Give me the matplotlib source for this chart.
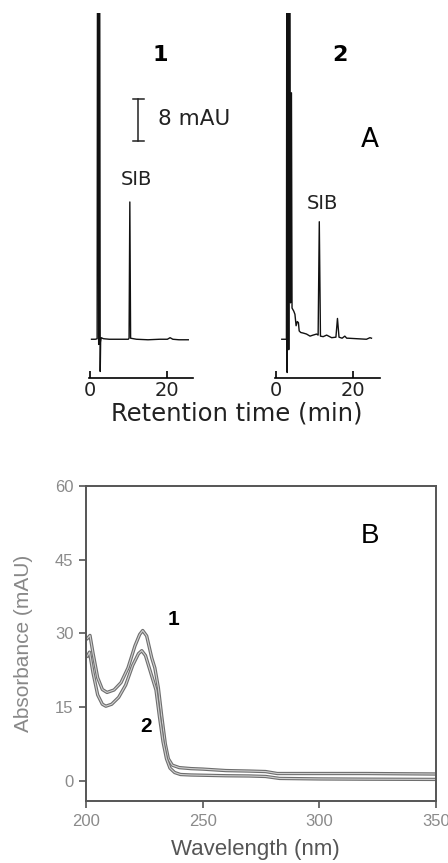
import numpy as np
import matplotlib
matplotlib.use("Agg")
import matplotlib.pyplot as plt

# --- chromatogram 1 (standard) : time (min), signal (mAU)
t_std = [0.4, 1.4, 1.85, 1.95, 2.1, 2.25, 2.35, 2.5, 2.65, 2.75, 2.9, 3.5, 5.0, 8.0, 9.9,
         10.1, 10.3, 10.5, 12.0, 15.0, 18.0, 20.0, 20.7, 21.4, 23.0, 25.4]
y_std = [0.0, 0.0, 0.1, 80, 80, -1.0, 80, 80, -6.2, -0.6, 0.3, 0.1, 0.0, 0.0, 0.0,
         0.2, 26.4, 0.2, 0.0, -0.1, 0.0, 0.0, 0.3, 0.0, -0.1, -0.1]

# --- chromatogram 2 (sample)
t_smp = [1.5, 2.7, 2.8, 2.9, 3.0, 3.15, 3.3, 3.45, 3.6, 3.75, 4.0, 4.15, 4.3, 4.6, 4.9, 5.2,
         5.5, 5.8, 6.0, 6.4, 7.0, 7.9, 8.8, 9.6, 10.5, 10.9, 11.2, 11.5, 12.2, 13.1, 14.4,
         15.5, 15.9, 16.3, 17.1, 17.8, 18.3, 18.7, 21.0, 23.4, 24.3, 24.7]
y_smp = [0.0, 0.0, 80, -6.4, 80, 80, -2.0, 80, 80, 7.0, 47.4, 6.0, 5.8, 5.4, 4.8, 2.6,
         3.4, 3.2, 1.6, 1.3, 1.2, 1.0, 0.6, 0.8, 1.0, 0.8, 22.6, 0.6, 0.5, 0.8, 0.3,
         0.4, 4.0, 0.4, 0.2, 0.6, 0.2, 0.2, 0.1, 0.0, 0.3, 0.2]

scale_bar = 8  # mAU

# --- UV spectra : wavelength (nm), absorbance (mAU)
wl_1 = [200.6, 201.7, 203, 205, 207, 209, 212, 215, 218, 221, 223, 224.3, 226, 228.2,
        229.5, 231, 232.5, 234, 235.3, 237, 240, 245, 250, 260, 270, 277, 282, 300, 320, 350]
ab_1 = [29.0, 29.6, 26.0, 21.0, 18.6, 18.0, 18.5, 20.0, 23.0, 27.5, 29.8, 30.6, 29.5, 25.0,
        23.0, 19.0, 13.0, 7.5, 4.5, 3.2, 2.7, 2.5, 2.4, 2.1, 2.0, 1.9, 1.5, 1.5, 1.5, 1.4]
wl_2 = [200.6, 201.5, 203, 205, 207, 208.5, 211, 214, 217, 220, 222.5, 223.9, 225.5, 228.2,
        230, 231.5, 233, 234.5, 236, 238, 240.5, 245, 250, 260, 270, 277, 283, 300, 320, 350]
ab_2 = [25.4, 26.2, 22.0, 17.5, 15.6, 15.2, 15.6, 17.0, 19.5, 23.5, 25.9, 26.5, 25.5, 21.3,
        18.5, 13.0, 8.0, 4.5, 2.6, 1.7, 1.3, 1.2, 1.15, 1.05, 1.0, 0.9, 0.5, 0.4, 0.35, 0.3]

fig = plt.figure(figsize=(4.48, 8.63), dpi=100)

def chrom_axes(rect, xlim):
    ax = fig.add_axes(rect)
    ax.set_xlim(*xlim)
    ax.set_ylim(-7.5, 62.75)
    for s in ['left', 'top', 'right']:
        ax.spines[s].set_visible(False)
    ax.spines['bottom'].set_linewidth(1.2)
    ax.set_yticks([])
    ax.set_xticks([0, 20])
    ax.tick_params(axis='x', direction='in', length=5, width=1.2, pad=2,
                   labelsize=14, labelcolor='#222')
    for lab in ax.get_xticklabels():
        lab.set_family('DejaVu Sans')
    return ax

ax1 = chrom_axes([0.1991, 0.5617, 0.2324, 0.4233], (-0.2, 26.7))
ax1.plot(t_std, y_std, color='#111', lw=1.0)
# scale bar
ax1.plot([12.5, 12.5], [38.2, 38.2 + scale_bar], color='#222', lw=1.1)
ax1.plot([11.0, 14.0], [38.2, 38.2], color='#222', lw=1.1)
ax1.plot([11.0, 14.0], [38.2 + scale_bar, 38.2 + scale_bar], color='#222', lw=1.1)
ax1.text(17.6, 42.3, '%d mAU' % scale_bar, fontsize=15.5, ha='left', va='center',
         family='DejaVu Sans', color='#222')
ax1.text(11.9, 30.8, 'SIB', fontsize=14, ha='center', va='center',
         family='DejaVu Sans', color='#222')
ax1.text(18.1, 54.6, '1', fontsize=16, fontweight='bold', ha='center', va='center',
         family='DejaVu Sans')

ax2 = chrom_axes([0.6138, 0.5617, 0.2344, 0.4233], (-0.26, 26.9))
ax2.plot(t_smp, y_smp, color='#111', lw=1.0)
ax2.text(12.1, 26.2, 'SIB', fontsize=14, ha='center', va='center',
         family='DejaVu Sans', color='#222')
ax2.text(16.5, 54.6, '2', fontsize=16, fontweight='bold', ha='center', va='center',
         family='DejaVu Sans')
ax2.text(24.3, 38.3, 'A', fontsize=19, ha='center', va='center', family='DejaVu Sans')

fig.text(0.528, 0.521, 'Retention time (min)', fontsize=17.5, ha='center', va='center',
         family='DejaVu Sans', color='#222')

# --- panel B
axb = fig.add_axes([0.192, 0.0718, 0.781, 0.365])
for wl, ab in [(wl_1, ab_1), (wl_2, ab_2)]:
    axb.plot(wl, ab, color='#6e6e6e', lw=2.4)
    axb.plot(wl, ab, color='#d0d0d0', lw=0.8)
axb.set_xlim(200, 350)
axb.set_ylim(-4.1, 60)
axb.set_xticks([200, 250, 300, 350])
axb.set_yticks([0, 15, 30, 45, 60])
for s in axb.spines.values():
    s.set_color('#555')
    s.set_linewidth(1.4)
axb.tick_params(direction='out', length=5, width=1.2, color='#555', labelsize=12,
                labelcolor='#8a8a8a', pad=4)
for lab in axb.get_xticklabels() + axb.get_yticklabels():
    lab.set_family('Liberation Sans')
axb.set_xlabel('Wavelength (nm)', fontsize=16, color='#555', family='Liberation Sans')
axb.set_ylabel('Absorbance (mAU)', fontsize=15, color='#888', family='Liberation Sans')
axb.xaxis.set_label_coords(0.483, -0.122)
axb.yaxis.set_label_coords(-0.152, 0.5)
axb.text(321.7, 49.8, 'B', fontsize=20, ha='center', va='center', family='Liberation Sans')
axb.text(237.4, 32.9, '1', fontsize=15, fontweight='bold', ha='center', va='center',
         family='Liberation Sans')
axb.text(225.7, 11.0, '2', fontsize=15, fontweight='bold', ha='center', va='center',
         family='Liberation Sans')

fig.savefig('out.png', dpi=100)
